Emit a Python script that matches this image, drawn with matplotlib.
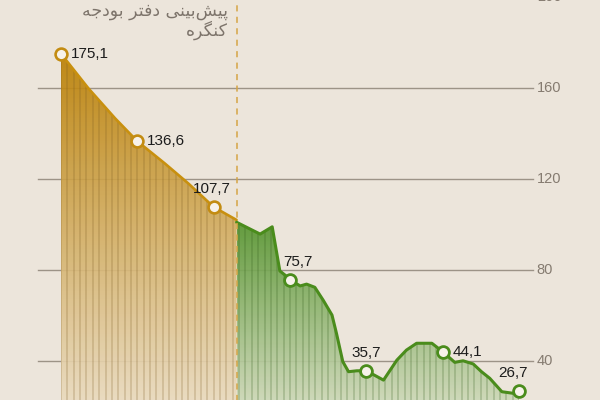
import numpy as np
import matplotlib
matplotlib.use("Agg")
import matplotlib.pyplot as plt
from matplotlib.colors import LinearSegmentedColormap
from matplotlib.patches import Polygon

# داده ها (محور افقی: شماره گام، نقطه های برچسب دار هر ۱۲ گام)
x_orange = [0, 4.3, 8.5, 12, 16.3, 20.0, 24, 27.6]
y_orange = [175.1, 159.9, 146.7, 136.6, 126.9, 118.1, 107.7, 102.0]

x_green = [27.6, 31.3, 33.2, 34.4, 35.2, 36.0, 37.6, 38.6, 39.9, 41.2, 42.6, 43.3,
           44.3, 45.2, 46.5, 48.0, 50.7, 52.8, 54.3, 55.9, 58.3, 60.0, 61.9, 63.2,
           64.8, 66.1, 67.4, 69.3, 71.1, 72.0]
y_green = [101.0, 95.8, 99.0, 79.6, 77.8, 75.7, 73.0, 73.8, 72.4, 66.8, 60.2, 52.2,
           39.7, 35.3, 35.7, 35.7, 31.6, 40.4, 44.8, 47.8, 47.8, 44.1, 39.4, 40.1,
           38.7, 35.3, 32.4, 26.5, 25.8, 26.7]

mark_x_orange = [0, 12, 24]
mark_y_orange = [175.1, 136.6, 107.7]
mark_x_green = [36, 48, 60, 72]
mark_y_green = [75.7, 35.7, 44.1, 26.7]

grid_vals = [40, 80, 120, 160, 200]
split_x = 27.6
forecast_lines = ["پیش‌بینی دفتر بودجه", "کنگره"]

BG = "#ECE5DB"

# شکل دهی ساده حروف فارسی (matplotlib خودش حروف را به هم نمی چسباند)
FORMS = {
    "\u0628": ("\uFE8F", "\uFE90", "\uFE91", "\uFE92"),
    "\u067E": ("\uFB56", "\uFB57", "\uFB58", "\uFB59"),
    "\u062A": ("\uFE95", "\uFE96", "\uFE97", "\uFE98"),
    "\u062C": ("\uFE9D", "\uFE9E", "\uFE9F", "\uFEA0"),
    "\u0634": ("\uFEB5", "\uFEB6", "\uFEB7", "\uFEB8"),
    "\u0641": ("\uFED1", "\uFED2", "\uFED3", "\uFED4"),
    "\u0646": ("\uFEE5", "\uFEE6", "\uFEE7", "\uFEE8"),
    "\u0647": ("\uFEE9", "\uFEEA", "\uFEEB", "\uFEEC"),
    "\u06CC": ("\uFBFC", "\uFBFD", "\uFBFE", "\uFBFF"),
    "\u06A9": ("\uFB8E", "\uFB8F", "\uFB90", "\uFB91"),
    "\u06AF": ("\uFB92", "\uFB93", "\uFB94", "\uFB95"),
    "\u062F": ("\uFEA9", "\uFEAA", None, None),
    "\u0631": ("\uFEAD", "\uFEAE", None, None),
    "\u0648": ("\uFEED", "\uFEEE", None, None),
}


def shape(text):
    out = []
    for i, c in enumerate(text):
        if c not in FORMS:
            if c != "\u200c":
                out.append(c)
            continue
        prev = text[i - 1] if i > 0 else None
        nxt = text[i + 1] if i + 1 < len(text) else None
        jp = prev in FORMS and FORMS[prev][2] is not None
        jn = nxt in FORMS and FORMS[c][2] is not None
        iso, fin, ini, med = FORMS[c]
        if jp and jn:
            out.append(med)
        elif jp:
            out.append(fin)
        elif jn:
            out.append(ini)
        else:
            out.append(iso)
    return "".join(reversed(out))


fig = plt.figure(figsize=(6, 4), dpi=100, facecolor=BG)
ax = fig.add_axes([0, 0, 1, 1])
ax.set_facecolor(BG)
ax.set_xlim(-9.59, 84.73)
ax.set_ylim(22.86, 198.7)
ax.axis("off")

# خطوط شبکه
for g in grid_vals:
    ax.plot([-3.6, 74.2], [g, g], color="#9C9387", lw=1.0, zorder=1)
    ax.text(74.8, g, str(g), ha="left", va="center", fontsize=10.5,
            color="#857B70", family="Liberation Sans")


def area(xs, ys, top_col, bot_col, vtop, vbot, stripe_col, line_col, lw):
    verts = [(xs[0], 0)] + list(zip(xs, ys)) + [(xs[-1], 0)]
    poly = Polygon(verts, closed=True, facecolor="none", edgecolor="none")
    ax.add_patch(poly)
    cmap = LinearSegmentedColormap.from_list("g", [bot_col, top_col])
    grad = np.linspace(1, 0, 256).reshape(-1, 1)
    im = ax.imshow(grad, cmap=cmap, aspect="auto", extent=[xs[0], xs[-1], vbot, vtop],
                   origin="upper", zorder=2, alpha=0.92, interpolation="bilinear")
    im.set_clip_path(poly)
    low = ax.fill_between([xs[0], xs[-1]], 0, vbot, color=bot_col, alpha=0.92, zorder=2, lw=0)
    low.set_clip_path(poly)
    for s in range(int(np.ceil(xs[0])), int(np.floor(xs[-1])) + 1):
        ln, = ax.plot([s, s], [0, 200], color=stripe_col, lw=1.1, alpha=0.26, zorder=3)
        ln.set_clip_path(poly)
    ax.plot(xs, ys, color=line_col, lw=lw, zorder=5, solid_capstyle="round",
            solid_joinstyle="round")


area(x_orange, y_orange, "#BC8208", "#EBDDC4", 172, 18, "#7A5A20", "#C8900F", 1.9)
area(x_green, y_green, "#579530", "#D0DABB", 101, 20, "#2F5A18", "#4A8C1C", 2.2)

ax.plot([split_x, split_x], [0, 200], color="#D5A545", lw=1.1, ls=(0, (4, 3.5)), zorder=6)

ax.plot(mark_x_orange, mark_y_orange, "o", ms=8.5, mfc="#F7F2EA", mec="#C38C12",
        mew=1.9, zorder=7)
ax.plot(mark_x_green, mark_y_green, "o", ms=8.5, mfc="#F7F2EA", mec="#4A8C1C",
        mew=2.0, zorder=7)

# برچسب مقادیر
offsets = [(7, 0, "left", "center"), (7, 0, "left", "center"), (-1, 8, "center", "bottom"),
           (6, 8, "center", "bottom"), (0, 8, "center", "bottom"), (7, 0, "left", "center"),
           (-4, 8, "center", "bottom")]
mx = mark_x_orange + mark_x_green
my = mark_y_orange + mark_y_green
for (xx, yy, (dx, dy, ha, va)) in zip(mx, my, offsets):
    ax.annotate(f"{yy:.1f}".replace(".", ","), (xx, yy), xytext=(dx, dy),
                textcoords="offset points", ha=ha, va=va, fontsize=11,
                color="#1C1C1C", family="Liberation Sans", zorder=8)

ax.text(26.25, 194.0, shape(forecast_lines[0]), ha="right", va="center",
        fontsize=12.5, color="#7D746B", family="DejaVu Sans")
ax.text(26.25, 185.6, shape(forecast_lines[1]), ha="right", va="center",
        fontsize=12.5, color="#7D746B", family="DejaVu Sans")

fig.savefig("out.png", dpi=100, facecolor=BG)
